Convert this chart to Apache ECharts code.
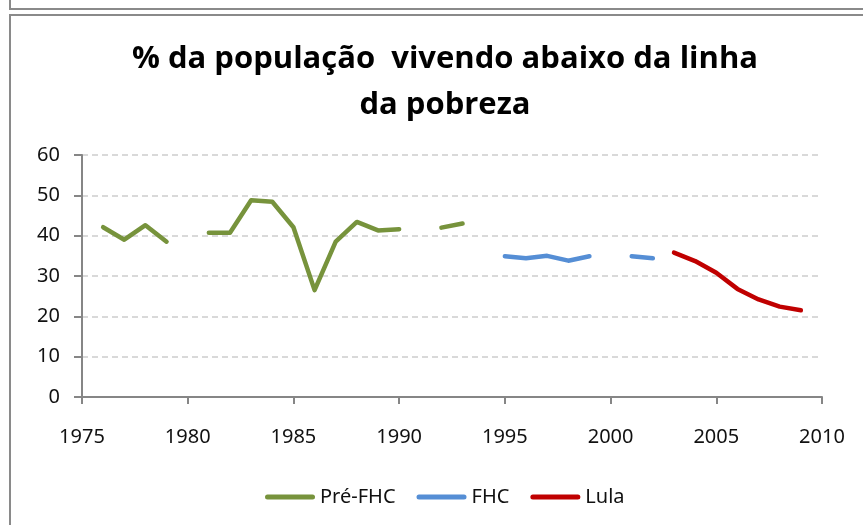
<!DOCTYPE html>
<html>
<head>
<meta charset="utf-8">
<script src="https://cdn.jsdelivr.net/npm/echarts@6/dist/echarts.min.js"></script>
<style>
  html, body { margin: 0; padding: 0; background: #fff; }
  #chart { width: 863px; height: 525px; }
  .frame { position: absolute; border-style: solid; border-color: #8a8a8a; pointer-events: none; }
</style>
</head>
<body>
<div id="chart"></div>
<div class="frame" style="left:9px; top:-10px; width:900px; height:18px; border-width:0 0 2px 2px;"></div>
<div class="frame" style="left:9px; top:14px; width:900px; height:600px; border-width:2px 0 0 2px;"></div>
<script>
const preYears = [1976, 1977, 1978, 1979, 1980, 1981, 1982, 1983, 1984, 1985, 1986, 1987, 1988, 1989, 1990, 1991, 1992, 1993]
const preValues = [42.1, 39.0, 42.6, 38.5, null, 40.7, 40.7, 48.8, 48.4, 42.1, 26.5, 38.5, 43.4, 41.3, 41.6, null, 42.0, 43.0]
const fhcYears = [1995, 1996, 1997, 1998, 1999, 2000, 2001, 2002]
const fhcValues = [34.9, 34.4, 35.0, 33.8, 34.9, null, 34.9, 34.4]
const lulaYears = [2003, 2004, 2005, 2006, 2007, 2008, 2009]
const lulaValues = [35.8, 33.7, 30.8, 26.8, 24.2, 22.4, 21.5]

const FONT = '"Noto Sans", sans-serif'
const pairs = (xs, vs) => xs.map((x, i) => [x, vs[i] == null ? '-' : vs[i]])
// rounded bar used as legend icon (mimics a thick line with round caps)
const LEGEND_ICON = 'path://M2.5,0 L47.5,0 A2.5,2.5 0 0 1 47.5,5 L2.5,5 A2.5,2.5 0 0 1 2.5,0 Z'

const line = (name, color, data) => ({
  name,
  type: 'line',
  data,
  showSymbol: false,
  symbol: 'none',
  connectNulls: false,
  lineStyle: { color, width: 4.5, cap: 'round', join: 'round' },
  itemStyle: { color },
  animation: false
})

const chart = echarts.init(document.getElementById('chart'))
chart.setOption({
  backgroundColor: '#fff',
  title: {
    text: '% da população  vivendo abaixo da linha\nda pobreza',
    left: 440,
    top: 31,
    textAlign: 'center',
    textStyle: { fontFamily: '"Open Sans", sans-serif', fontWeight: 'bold', fontSize: 31, lineHeight: 46, color: '#000' }
  },
  legend: {
    left: 265,
    top: 487,
    padding: 0,
    icon: LEGEND_ICON,
    itemWidth: 50,
    itemHeight: 5,
    itemGap: 21,
    textStyle: { fontFamily: FONT, fontSize: 20, color: '#111' },
    data: ['Pré-FHC', 'FHC', 'Lula']
  },
  grid: { left: 82, right: 41, top: 155, bottom: 128 },
  xAxis: {
    type: 'value',
    min: 1975,
    max: 2010,
    interval: 5,
    axisLine: { lineStyle: { color: '#868686', width: 2 } },
    axisTick: { show: true, length: 7, lineStyle: { color: '#868686', width: 2 } },
    axisLabel: { margin: 30, fontFamily: FONT, fontSize: 20, color: '#111', formatter: v => String(v) },
    splitLine: { show: false }
  },
  yAxis: {
    type: 'value',
    min: 0,
    max: 60,
    interval: 10,
    axisLine: { show: true, lineStyle: { color: '#868686', width: 2 } },
    axisTick: { show: true, length: 8, lineStyle: { color: '#868686', width: 2 } },
    axisLabel: { margin: 22, fontFamily: FONT, fontSize: 20, color: '#111' },
    splitLine: { show: true, lineStyle: { color: '#d9d9d9', width: 2, type: [6, 4] } }
  },
  series: [
    line('Pré-FHC', '#77933C', pairs(preYears, preValues)),
    line('FHC', '#558ED5', pairs(fhcYears, fhcValues)),
    line('Lula', '#C00000', pairs(lulaYears, lulaValues))
  ]
})
</script>
</body>
</html>
